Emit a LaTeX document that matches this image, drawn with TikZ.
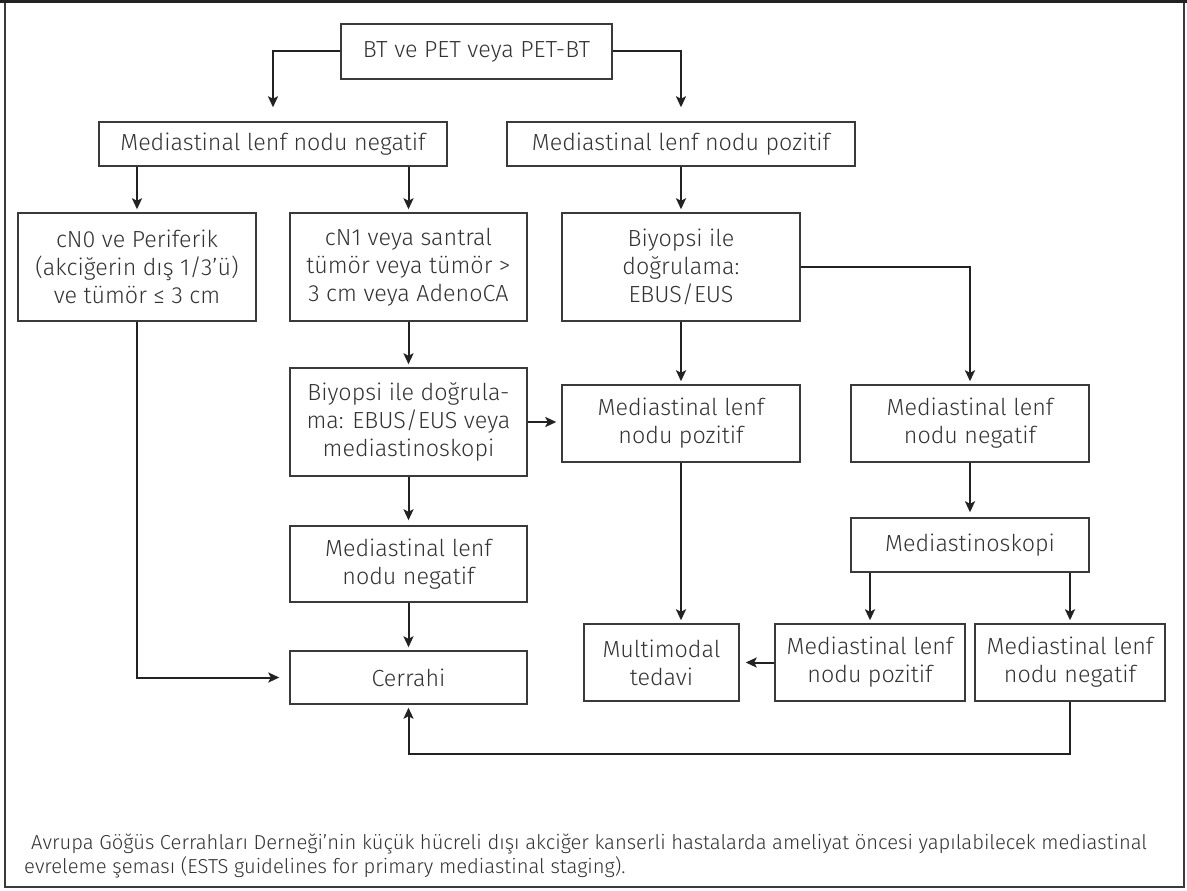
\documentclass[tikz,border=0pt]{standalone}
\usepackage{fontspec}
\setmainfont{Fira Sans}[UprightFont={* Light}]
\usetikzlibrary{arrows.meta,calc}
\definecolor{txt}{HTML}{333333}
\definecolor{ln}{HTML}{222222}
\definecolor{bx}{HTML}{3a3a3a}
\begin{document}
\begin{tikzpicture}[x=1pt,y=-1pt,
  box/.style={draw=bx,line width=1.4pt,rectangle,inner sep=0pt,align=center,text=txt,
    font=\fontsize{23.3}{28}\selectfont},
  arr/.style={draw=ln,line width=2pt,-{Stealth[length=11pt,width=10pt,inset=2.5pt]},shorten >=3pt}]
\useasboundingbox (0,0) rectangle (1187,891);
\fill[white] (0,0) rectangle (1187,891);
% frame
\draw[bx,line width=1.5pt] (5,1) -- (5,887) -- (1184,887) -- (1184,1);
\draw[ln,line width=3pt] (0,1.5) -- (1187,1.5);
% nodes
\node[box,minimum width=271pt,minimum height=55pt] (b1) at (476.5,51.5) {BT ve PET veya PET-BT};
\node[box,minimum width=348pt,minimum height=44pt] (neg) at (273,144) {Mediastinal lenf nodu negatif};
\node[box,minimum width=348pt,minimum height=44pt] (pos) at (681,144) {Mediastinal lenf nodu pozitif};
\node[box,minimum width=238pt,minimum height=108pt] (cn0) at (137,267) {cN0 ve Periferik\\(akciğerin dış 1/3’ü)\\ve tümör ≤ 3 cm};
\node[box,minimum width=237pt,minimum height=108pt] (cn1) at (408.5,267) {cN1 veya santral\\tümör veya tümör >\\3 cm veya AdenoCA};
\node[box,minimum width=238pt,minimum height=108pt] (bio1) at (681,267) {Biyopsi ile\\doğrulama:\\EBUS/EUS};
\node[box,minimum width=237pt,minimum height=108pt] (bio2) at (408.5,422) {Biyopsi ile doğrula-\\ma: EBUS/EUS veya\\mediastinoskopi};
\node[box,minimum width=238pt,minimum height=77pt] (mpos1) at (681,423.5) {Mediastinal lenf\\nodu pozitif};
\node[box,minimum width=238pt,minimum height=77pt] (mneg1) at (970,423.5) {Mediastinal lenf\\nodu negatif};
\node[box,minimum width=237pt,minimum height=76pt] (mneg2) at (408.5,564) {Mediastinal lenf\\nodu negatif};
\node[box,minimum width=238pt,minimum height=54pt] (msk) at (970,545) {Mediastinoskopi};
\node[box,minimum width=155pt,minimum height=77pt] (multi) at (661.5,662.5) {Multimodal\\tedavi};
\node[box,minimum width=190pt,minimum height=77pt] (mpos2) at (870,662.5) {Mediastinal lenf\\nodu pozitif};
\node[box,minimum width=190pt,minimum height=77pt] (mneg3) at (1070,662.5) {Mediastinal lenf\\nodu negatif};
\node[box,minimum width=237pt,minimum height=53pt] (cer) at (408.5,677.5) {Cerrahi};
% caption
\node[anchor=north west,align=left,text=txt,inner sep=0pt,font=\fontsize{20.2}{24}\selectfont] (cap) at (24,834)
  {\hspace{7pt}Avrupa Göğüs Cerrahları Derneği’nin küçük hücreli dışı akciğer kanserli hastalarda ameliyat öncesi yapılabilecek mediastinal\\evreleme şeması (ESTS guidelines for primary mediastinal staging).};
% connectors
\draw[arr,shorten >=14pt] (b1.west) -| (neg.north);
\draw[arr,shorten >=14pt] (b1.east) -| (pos.north);
\draw[arr] (neg.south -| cn0.north) -- (cn0.north);
\draw[arr] (neg.south -| cn1.north) -- (cn1.north);
\draw[arr] (pos.south) -- (bio1.north);
\draw[arr] (bio1.east) -| (mneg1.north);
\draw[arr] (bio1.south) -- (mpos1.north);
\draw[arr] (cn1.south) -- (bio2.north);
\draw[arr,shorten >=5pt] (bio2.east) -- (bio2.east -| mpos1.west);
\draw[arr,shorten >=5pt] (bio2.south) -- (mneg2.north);
\draw[arr] (mneg2.south) -- (cer.north);
\draw[arr,shorten >=10pt] (cn0.south) |- (cer.west);
\draw[arr] (mpos1.south) -- (mpos1.south |- multi.north);
\draw[arr,shorten >=5pt] (mneg1.south) -- (msk.north);
\draw[arr] (msk.south -| mpos2.north) -- (mpos2.north);
\draw[arr] (msk.south -| mneg3.north) -- (mneg3.north);
\draw[arr,shorten >=6pt] (mpos2.west) -- (mpos2.west -| multi.east);
\coordinate (lowr) at ($(mneg3.south)+(0,52)$);
\draw[arr] (mneg3.south) -- (lowr) -| (cer.south);
\end{tikzpicture}
\end{document}
